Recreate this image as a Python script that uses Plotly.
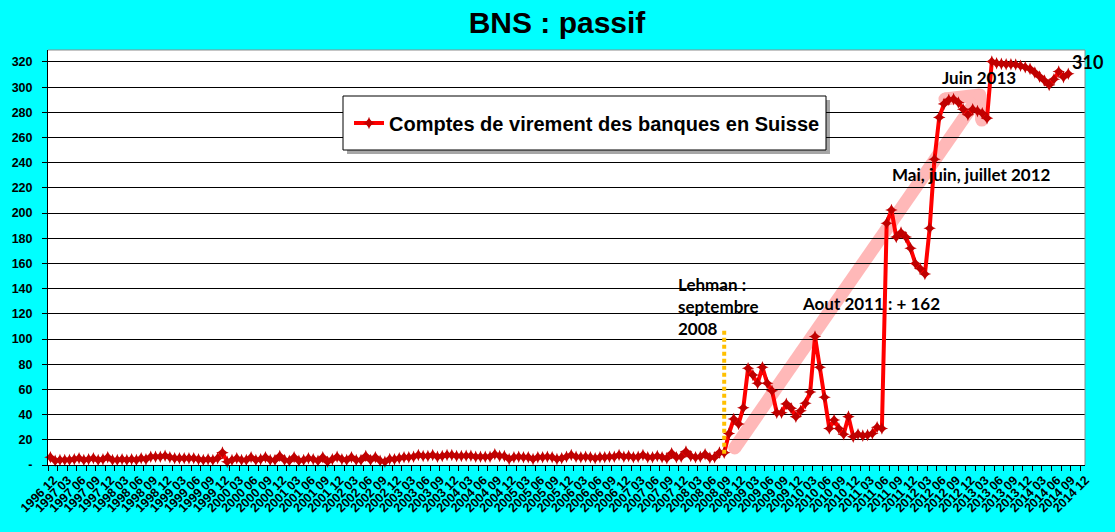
import plotly.graph_objects as go

# ---------------- data ----------------
month_labels = [f"{1996 + (11 + k) // 12} {((11 + k) % 12) + 1:02d}" for k in range(217)]

values = [
    6.1, 3.4, 4.0, 4.0, 4.0, 4.5, 5.3, 4.0, 4.5, 5.3,
    4.0, 4.5, 6.1, 4.0, 4.0, 4.5, 4.0, 4.5, 4.0, 5.3,
    4.5, 6.6, 6.6, 6.6, 7.4, 6.1, 5.3, 5.3, 5.3, 5.3,
    5.3, 4.5, 4.0, 4.5, 4.0, 5.3, 9.8, 2.5, 4.0, 5.3,
    4.0, 4.0, 6.1, 4.0, 4.5, 6.1, 4.0, 4.0, 7.1, 4.0,
    3.4, 6.1, 3.4, 4.0, 5.3, 4.5, 3.4, 6.1, 2.6, 4.5,
    6.6, 4.5, 4.0, 6.1, 4.0, 4.0, 7.1, 4.0, 6.1, 3.4,
    2.6, 4.7, 4.5, 5.3, 6.1, 6.1, 6.6, 7.9, 7.1, 7.1,
    7.9, 6.6, 7.1, 7.9, 7.9, 7.1, 7.1, 7.4, 7.4, 6.6,
    6.6, 6.6, 6.6, 8.5, 7.1, 7.1, 4.7, 6.1, 6.6, 6.1,
    6.1, 4.7, 6.1, 6.1, 6.6, 6.1, 4.7, 5.3, 6.6, 7.9,
    6.6, 6.1, 6.6, 6.1, 5.3, 6.1, 6.1, 6.6, 6.6, 7.9,
    6.6, 7.1, 6.1, 6.6, 7.9, 6.1, 6.1, 7.1, 6.1, 5.3,
    9.3, 6.1, 6.6, 10.6, 7.1, 6.1,
    6.6, 8.5, 5.8, 6.1, 9.8, 9.8, 25, 36.5, 32.6, 45.5,
    76.8, 71.5, 64.9, 77.6, 64.9, 59, 41.5, 41.5, 48.5, 45,
    38.4, 43, 49, 58, 102, 77.6, 53.8, 29, 35.7, 29,
    24.4, 38.4, 22.5, 24.4, 23.3, 23.8, 25, 30, 29, 192,
    202.5, 181, 184.5, 181, 172, 160, 156, 151.7, 188, 242.8,
    276, 286.7, 290, 290.5, 287.8, 282.5, 278, 282.5, 281, 279.3,
    275.4, 320.3, 319, 318.5, 318.2, 318.2, 318, 317, 315.8, 314.5,
    311.6, 308.4, 305.3, 301.8, 306.3, 312.4, 308, 310.6,
    None, None, None,
]

y_ticks = list(range(0, 321, 20))
y_ticktext = ["-"] + [str(v) for v in y_ticks[1:]]

series_name = "Comptes de virement des banques en Suisse"
title_text = "BNS : passif"

# ---------------- layout helpers ----------------
W, H = 1115, 532
L, R, T, B = 48, 1085, 50, 465


def xp(px):
    return (px - L) / (R - L)


def yp(py):
    return (B - py) / (B - T)


x_idx = list(range(len(month_labels)))
label_idx = list(range(0, len(month_labels), 3))

fig = go.Figure()
fig.add_trace(go.Scatter(
    x=x_idx, y=values, name=series_name, mode="lines+markers",
    line=dict(color="#FF0000", width=4),
    marker=dict(symbol="star-diamond", size=9, color="#C00000"),
    cliponaxis=False,
))

ARIAL = "Liberation Sans, Arial, sans-serif"
CAL = "Lato, Carlito, sans-serif"

shapes = []
# plot border top/right (gray)
shapes.append(dict(type="line", xref="paper", yref="paper", x0=0, x1=1, y0=1, y1=1,
                   line=dict(color="#8c8c8c", width=1), layer="above"))
shapes.append(dict(type="line", xref="paper", yref="paper", x0=1, x1=1, y0=0, y1=1,
                   line=dict(color="#8c8c8c", width=1), layer="above"))

# pink arrow (data coordinates)
PINK = "#FFB8B8"
AW = 13
tail = (143.2, 13.5)
tip = (194.5, 293.8)
barb_l = (187.2, 290.6)
barb_d = (194.9, 273.9)
for a, b in [(tail, tip), (tip, barb_l), (tip, barb_d)]:
    shapes.append(dict(type="line", xref="x", yref="y", x0=a[0], y0=a[1], x1=b[0], y1=b[1],
                       line=dict(color=PINK, width=AW), layer="below"))
for p in [tail, tip, barb_l, barb_d]:
    shapes.append(dict(type="circle", xref="x", yref="y", xsizemode="pixel", ysizemode="pixel",
                       xanchor=p[0], yanchor=p[1], x0=-AW / 2, x1=AW / 2, y0=-AW / 2, y1=AW / 2,
                       fillcolor=PINK, line=dict(width=0), layer="below"))

# Lehman dotted line
shapes.append(dict(type="line", xref="x", yref="y", x0=141, x1=141, y0=9, y1=107,
                   line=dict(color="#FFC000", width=4, dash="4px,3px"), layer="above"))

# legend box with shadow
shapes.append(dict(type="rect", xref="paper", yref="paper",
                   x0=xp(347), x1=xp(830), y0=yp(154), y1=yp(100),
                   fillcolor="rgba(0,0,0,0.35)", line=dict(width=0), layer="above"))
shapes.append(dict(type="rect", xref="paper", yref="paper",
                   x0=xp(343), x1=xp(826), y0=yp(150), y1=yp(96),
                   fillcolor="white", line=dict(color="black", width=1), layer="above"))

annotations = [
    dict(text="Lehman :<br>septembre<br>2008", x=xp(676), y=yp(272), xanchor="left", yanchor="top",
         align="left", font=dict(family=CAL, size=17, color="black", weight="bold")),
    dict(text="Aout 2011 : + 162", x=xp(800), y=yp(303), xanchor="left", yanchor="middle",
         font=dict(family=CAL, size=17, color="black", weight="bold")),
    dict(text="Mai, juin, juillet 2012", x=xp(890), y=yp(174), xanchor="left", yanchor="middle",
         font=dict(family=CAL, size=17, color="black", weight="bold")),
    dict(text="Juin 2013", x=xp(940), y=yp(78), xanchor="left", yanchor="middle",
         font=dict(family=CAL, size=17, color="black", weight="bold")),
    dict(text="310", x=xp(1070), y=yp(62), xanchor="left", yanchor="middle",
         font=dict(family=CAL, size=18, color="black", weight="bold")),
]
for a in annotations:
    a.update(xref="paper", yref="paper", showarrow=False)

fig.update_layout(
    width=W, height=H,
    margin=dict(l=L, r=W - R, t=T, b=H - B, pad=0),
    paper_bgcolor="#00FFFF", plot_bgcolor="white",
    title=dict(text=title_text, x=557 / W, y=1 - 22 / H, xanchor="center", yanchor="middle",
               font=dict(family=ARIAL, size=30, color="black", weight="bold")),
    showlegend=True,
    legend=dict(x=xp(349), y=yp(123), xanchor="left", yanchor="middle",
                bgcolor="rgba(0,0,0,0)", borderwidth=0,
                font=dict(family=ARIAL, size=20, color="black", weight="bold")),
    shapes=shapes,
    annotations=annotations,
    xaxis=dict(
        range=[-0.5, len(month_labels) - 0.5], tickmode="array",
        tickvals=label_idx, ticktext=[month_labels[i] for i in label_idx],
        tickangle=-45, ticks="", showgrid=False, zeroline=False,
        showline=True, linecolor="black", linewidth=1,
        ticklabelshift=3, ticklabelstandoff=2,
        tickfont=dict(family=ARIAL, size=12.5, color="black", weight="bold"),
        minor=dict(tickmode="array", tickvals=[i - 0.5 for i in range(0, len(month_labels) + 1, 2)],
                   ticks="outside", ticklen=5, tickcolor="black", tickwidth=1, showgrid=False),
    ),
    yaxis=dict(
        range=[0, 329.5], tickmode="array", tickvals=y_ticks, ticktext=y_ticktext,
        ticks="outside", ticklen=5, tickcolor="black",
        showgrid=True, gridcolor="black", gridwidth=1, zeroline=False,
        showline=True, linecolor="black", linewidth=1,
        ticklabelstandoff=7,
        tickfont=dict(family=ARIAL, size=12.5, color="black", weight="bold"),
    ),
)

fig.write_html(
    "out.html",
    config={"displayModeBar": False},
    post_script="document.body.style.margin='0';document.body.style.overflow='hidden';"
                "document.body.style.background='#00FFFF';",
)
